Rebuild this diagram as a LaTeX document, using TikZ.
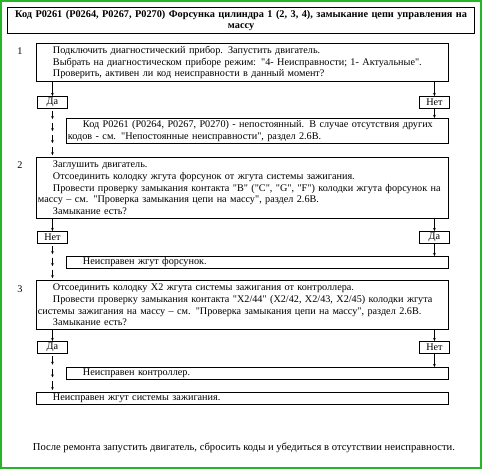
\documentclass[tikz,border=0pt]{standalone}
\usepackage{fontspec}
\setmainfont{Liberation Serif}[Ligatures=TeXOff]
\usetikzlibrary{calc,arrows.meta}
\definecolor{framegreen}{RGB}{40,180,40}
\newcommand\arrchain[3]{%
  \foreach \i in {1,...,#3}{%
    \draw[arr] ($(#1.south)!{(\i-0.85)/#3}!(#1.south|-#2.north)$) -- ($(#1.south)!{(\i-0.15)/#3}!(#1.south|-#2.north)$);}}
\newcommand\ind{\hspace*{15pt}}
\begin{document}
\begin{tikzpicture}[x=1pt,y=-1pt,
  txt/.style={font=\fontsize{10.2}{11.7}\selectfont},
  box/.style={draw, line width=0.9pt, anchor=north west, inner xsep=1.5pt, inner ysep=0pt, txt},
  yn/.style={draw, line width=0.9pt, anchor=north west, minimum width=30pt, minimum height=12pt, inner sep=0pt, txt},
  num/.style={txt},
  arr/.style={line width=0.5pt, -{Stealth[length=3pt,width=2.6pt]}},
]
\useasboundingbox (0,0) rectangle (482,469);
\fill[white] (0,0) rectangle (482,469);
\draw[framegreen, line width=2pt] (1,1) rectangle (481,468);

\node[box, text width=464pt, minimum height=26pt, align=center, font=\fontsize{10.3}{11.7}\selectfont\bfseries, line width=1.1pt] (title) at (7,7)
  {Код P0261 (P0264, P0267, P0270) Форсунка цилиндра 1 (2, 3, 4), замыкание цепи управления на\\ массу};

% step 1
\node[num] (n1) at (20,51) {1};
\node[box, text width=409pt, minimum height=38pt] (s1) at (36,43)
  {\ind Подключить диагностический прибор. Запустить двигатель.\par
   \ind Выбрать на диагностическом приборе режим: "4- Неисправности; 1- Актуальные".\par
   \ind Проверить, активен ли код неисправности в данный момент?};
\node[yn] (da1) at (37,96) {Да};
\node[yn] (net1) at (419,96) {Нет};
\node[box, text width=379pt, minimum height=25pt] (r1) at (66,118)
  {\ind Код P0261 (P0264, P0267, P0270) - непостоянный. В случае отсутствия других\linebreak
   кодов - см. "Непостоянные неисправности", раздел 2.6В.};

% step 2
\node[num] (n2) at (20,165) {2};
\node[box, text width=409pt, minimum height=61pt] (s2) at (36,157)
  {\ind Заглушить двигатель.\par
   \ind Отсоединить колодку жгута форсунок от жгута системы зажигания.\par
   \ind Провести проверку замыкания контакта "B" ("C", "G", "F") колодки жгута форсунок на\linebreak
   массу – см. "Проверка замыкания цепи на массу", раздел 2.6В.\par
   \ind Замыкание есть?};
\node[yn] (net2) at (37,231) {Нет};
\node[yn] (da2) at (419,231) {Да};
\node[box, text width=379pt, minimum height=12pt] (r2) at (66,256)
  {\ind Неисправен жгут форсунок.};

% step 3
\node[num] (n3) at (20,289) {3};
\node[box, text width=409pt, minimum height=49pt] (s3) at (36,280)
  {\ind Отсоединить колодку X2 жгута системы зажигания от контроллера.\par
   \ind Провести проверку замыкания контакта "X2/44" (X2/42, X2/43, X2/45) колодки жгута\linebreak
   системы зажигания на массу – см. "Проверка замыкания цепи на массу", раздел 2.6В.\par
   \ind Замыкание есть?};
\node[yn] (da3) at (37,341) {Да};
\node[yn] (net3) at (419,341) {Нет};
\node[box, text width=379pt, minimum height=12pt] (r3) at (66,367)
  {\ind Неисправен контроллер.};
\node[box, text width=409pt, minimum height=12pt] (r4) at (36,392)
  {\ind Неисправен жгут системы зажигания.};

\node[font=\fontsize{10.6}{12}\selectfont] (foot) at (244,448) {После ремонта запустить двигатель, сбросить коды и убедиться в отсутствии неисправности.};

% connectors
\draw[arr] (da1.north |- s1.south) -- (da1.north);
\draw[arr] (net1.north |- s1.south) -- (net1.north);
\draw[arr] (net1.south) -- (net1.south |- r1.north);
\arrchain{da1}{s2}{4}
\draw[arr] (net2.north |- s2.south) -- (net2.north);
\draw[arr] (da2.north |- s2.south) -- (da2.north);
\draw[arr] (da2.south) -- (da2.south |- r2.north);
\arrchain{net2}{s3}{3}
\draw[arr] (da3.north |- s3.south) -- (da3.north);
\draw[arr] (net3.north |- s3.south) -- (net3.north);
\draw[arr] (net3.south) -- (net3.south |- r3.north);
\arrchain{da3}{r4}{3}
\end{tikzpicture}
\end{document}
